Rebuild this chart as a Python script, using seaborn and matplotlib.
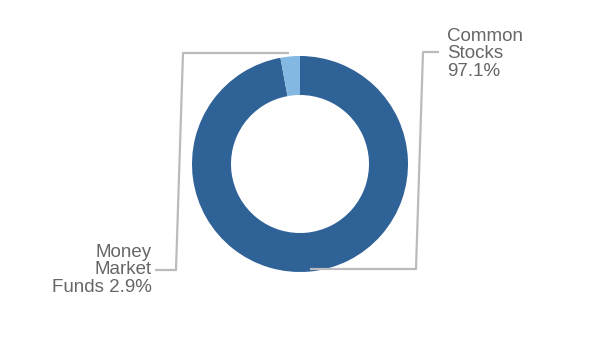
import matplotlib
matplotlib.use("Agg")
import matplotlib.pyplot as plt
import seaborn as sns

categories = ["Common Stocks", "Money Market Funds"]
values = [97.1, 2.9]
labels = ["Common\nStocks\n97.1%", "Money\nMarket\nFunds 2.9%"]
colors = ["#2F6297", "#83B8E3"]

sns.set_theme(style="white")
plt.rcParams['font.family'] = ['Liberation Sans', 'DejaVu Sans']

fig = plt.figure(figsize=(6, 3.6), dpi=100)
ax = fig.add_axes([0, 0, 1, 1])

H = 360
ax.pie(values, colors=colors, startangle=90, counterclock=False,
       center=(300, H - 164), radius=108,
       wedgeprops=dict(width=39, linewidth=0))

ax.set_xlim(0, 600)
ax.set_ylim(0, 360)
ax.set_aspect('equal')
ax.axis('off')

line_kw = dict(color="#BBBBBB", lw=1.6, solid_capstyle='butt')
# Common Stocks leader
ax.plot([310, 416, 423, 439], [H - 269, H - 269, H - 52, H - 52], **line_kw)
# Money Market leader
ax.plot([289, 183, 176, 155], [H - 53, H - 53, H - 270, H - 270], **line_kw)

ax.text(447, H - 54, labels[0], ha='left', va='center', fontsize=13.5,
        color="#666666", linespacing=1.05)
ax.text(152, H - 270, labels[1], ha='right', va='center', fontsize=13.5,
        color="#666666", linespacing=1.05)

fig.savefig("out.png", dpi=100)
